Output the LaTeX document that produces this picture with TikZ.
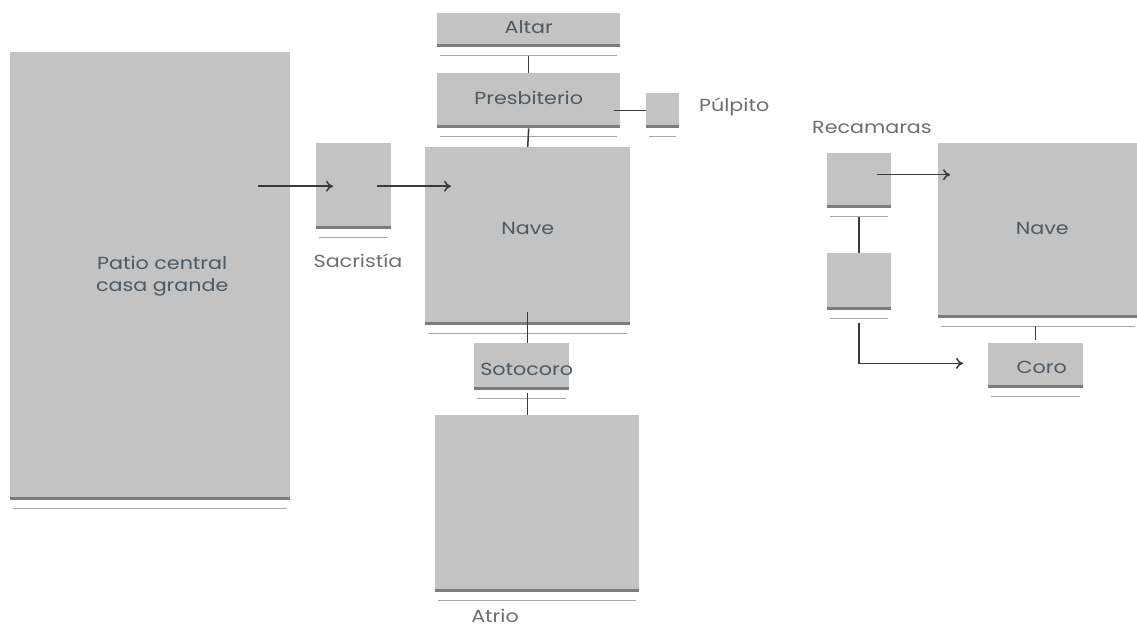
\documentclass[tikz,border=0pt]{standalone}
\usepackage{fontspec}
\setmainfont{Poppins}[FakeStretch=1.18]
\usetikzlibrary{arrows.meta}
\definecolor{boxgray}{HTML}{C3C3C3}
\definecolor{edgegray}{HTML}{7C7C7C}
\definecolor{refl}{HTML}{A8A8A8}
\definecolor{intext}{HTML}{4D5963}
\definecolor{outtext}{HTML}{6E6E6E}
\definecolor{conn}{HTML}{3A3A3A}
\tikzset{
  box/.style={rectangle, fill=boxgray, draw=none, inner sep=0pt, anchor=north west,
    text=intext, font=\fontsize{17.5}{20}\selectfont, align=center},
  boxtext/.style={text=intext, font=\fontsize{17.5}{20}\selectfont, align=center},
  outlabel/.style={text=outtext, font=\fontsize{17.5}{20}\selectfont, inner sep=0pt},
  conline/.style={draw=conn, line width=1.5pt},
  arr/.style={conline, -{To[length=7pt,width=11pt]}},
}
\begin{document}
\begin{tikzpicture}[x=1pt,y=-1pt]
\useasboundingbox (0,0) rectangle (1137,627);
% boxes
\node[box, minimum width=280pt, minimum height=448pt, label={[boxtext, xshift=12pt]center:Patio central\\[2pt]casa grande}] (patio) at (10,52) {};
\node[box, minimum width=75pt, minimum height=86pt] (sac) at (316,143) {};
\node[box, minimum width=205pt, minimum height=178pt, label={[boxtext, yshift=8pt]center:Nave}] (nave) at (425,147) {};
\node[box, minimum width=183pt, minimum height=34pt, label={[boxtext, yshift=3pt]center:Altar}] (altar) at (437,13) {};
\node[box, minimum width=183pt, minimum height=55pt, label={[boxtext, yshift=3pt]center:Presbiterio}] (pres) at (437,73) {};
\node[box, minimum width=33pt, minimum height=35pt] (pulp) at (646,93) {};
\node[box, minimum width=95pt, minimum height=47pt, label={[boxtext, xshift=5pt, yshift=-3pt]center:Sotocoro}] (soto) at (474,343) {};
\node[box, minimum width=204pt, minimum height=177pt] (atrio) at (435,415) {};
\node[box, minimum width=64pt, minimum height=55pt] (rec1) at (827,153) {};
\node[box, minimum width=64pt, minimum height=57pt] (rec2) at (827,253) {};
\node[box, minimum width=200pt, minimum height=175pt, label={[boxtext, xshift=4pt, yshift=2pt]center:Nave}] (nave2) at (938,143) {};
\node[box, minimum width=95pt, minimum height=45pt, label={[boxtext, xshift=6pt, yshift=-2pt]center:Coro}] (coro) at (988,343) {};
% bottom edges and reflections
\foreach \n in {patio,sac,nave,altar,pres,pulp,soto,atrio,rec1,rec2,nave2,coro}{
  \draw[edgegray, line width=3pt] ([yshift=1.5pt]\n.south west) -- ([yshift=1.5pt]\n.south east);
  \draw[refl, line width=1.4pt] ([xshift=3pt,yshift=-8pt]\n.south west) -- ([xshift=-3pt,yshift=-8pt]\n.south east);
}
% labels
\node[outlabel] (lsac) at (358,261) {Sacristía};
\node[outlabel, anchor=west] (lpulp) at (699,107) {Púlpito};
\node[outlabel, anchor=west] (lrec) at (812,127) {Recamaras};
\node[outlabel, anchor=base] (latrio) at (495,622) {Atrio};
% connectors
\draw[arr] ([xshift=-32pt]patio.east |- sac.center) -- ([xshift=17pt]sac.west);
\draw[arr] ([xshift=-14pt]sac.east) -- ([xshift=26pt]nave.west |- sac.center);
\draw[conline] ([yshift=-9pt]altar.south) -- (pres.north);
\draw[conline] (pres.south) -- (nave.north);
\draw[conline] ([xshift=-6pt]pres.east |- pulp.west) -- (pulp.west);
\draw[conline] ([yshift=13pt]nave.south) -- (soto.north -| nave.south);
\draw[conline] ([yshift=-3pt]soto.south -| nave.south) -- (atrio.north -| nave.south);
\draw[arr] ([xshift=-14pt,yshift=6pt]rec1.east) -- ([xshift=12pt,yshift=6pt]nave2.west |- rec1.east);
\draw[conline] ([yshift=-9pt]rec1.south) -- (rec2.north);
\coordinate (bend) at ([yshift=-53pt]rec2.south);
\draw[arr] ([yshift=-13pt]rec2.south) -- (bend) -- ([xshift=-25pt]coro.west |- bend);
\draw[conline] ([yshift=-8pt]nave2.south -| coro.north) -- ([yshift=3pt]coro.north);
\end{tikzpicture}
\end{document}
